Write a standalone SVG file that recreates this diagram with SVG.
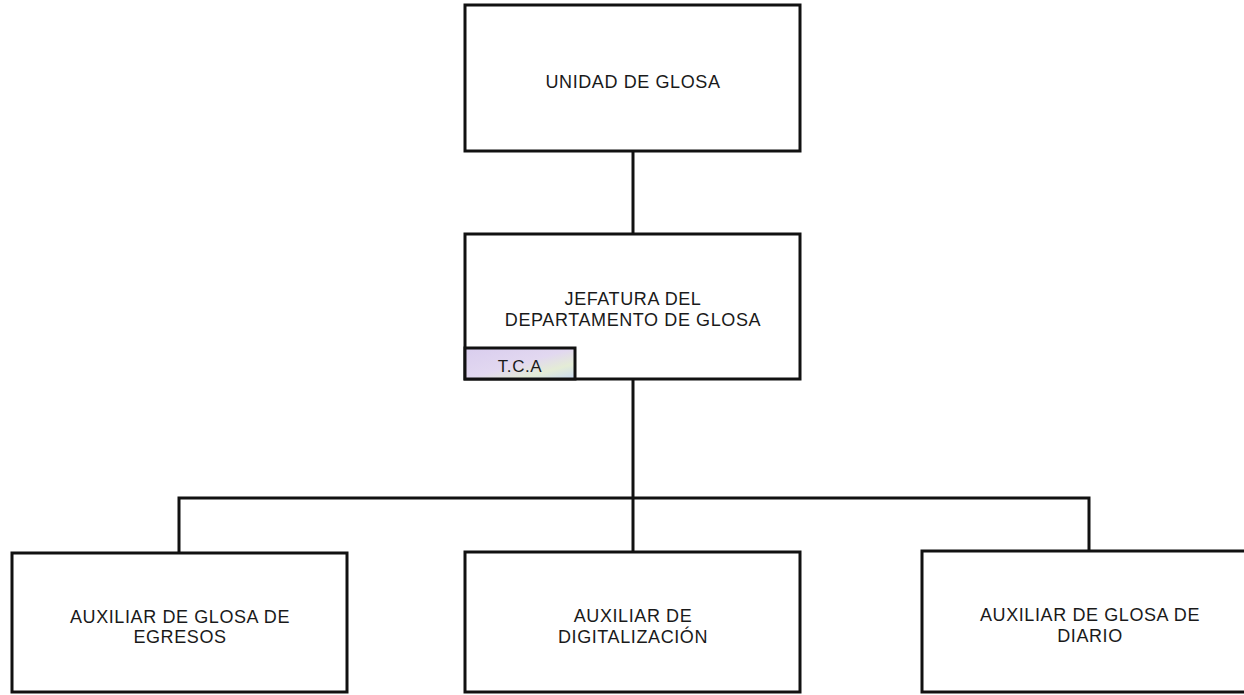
<svg xmlns="http://www.w3.org/2000/svg" width="1244" height="695" viewBox="0 0 1244 695">
<style>
.box{fill:#fff;stroke:#111;stroke-width:3}
.conn{fill:none;stroke:#111;stroke-width:3}
.t{font-family:"Liberation Sans",Arial,sans-serif;font-size:18px;fill:#1a1a1a;text-anchor:middle;letter-spacing:0.6px}
.s{font-size:17px}
</style>
<defs>
<linearGradient id="tca" x1="0" y1="0" x2="1" y2="1">
<stop offset="0" stop-color="#d9cdee"/>
<stop offset="0.5" stop-color="#e2d8f0"/>
<stop offset="0.75" stop-color="#e4ecd6"/>
<stop offset="1" stop-color="#c9daf2"/>
</linearGradient>
</defs>
<rect width="1244" height="695" fill="#fff"/>
<g id="connectors">
<line class="conn" x1="633" y1="151" x2="633" y2="234"/>
<line class="conn" x1="633" y1="379" x2="633" y2="552"/>
<polyline class="conn" points="179,552 179,498 1089,498 1089,551"/>
</g>
<g id="unidad">
<rect class="box" x="465" y="5" width="335" height="146"/>
<text class="t" x="633" y="88">UNIDAD DE GLOSA</text>
</g>
<g id="jefatura">
<rect class="box" x="465" y="234" width="335" height="145"/>
<text class="t" x="633" y="305">JEFATURA DEL</text>
<text class="t" x="633" y="326">DEPARTAMENTO DE GLOSA</text>
<g id="tca-badge">
<rect x="465" y="348" width="110" height="31" fill="url(#tca)" stroke="#111" stroke-width="3"/>
<text class="t s" x="520" y="372">T.C.A</text>
</g>
</g>
<g id="egresos">
<rect class="box" x="12" y="553" width="335" height="139"/>
<text class="t" x="180" y="623">AUXILIAR DE GLOSA DE</text>
<text class="t" x="180" y="643">EGRESOS</text>
</g>
<g id="digitalizacion">
<rect class="box" x="465" y="552" width="335" height="140"/>
<text class="t" x="633" y="622">AUXILIAR DE</text>
<text class="t" x="633" y="643">DIGITALIZACIÓN</text>
</g>
<g id="diario">
<rect class="box" x="922" y="551" width="340" height="141"/>
<text class="t" x="1090" y="621">AUXILIAR DE GLOSA DE</text>
<text class="t" x="1090" y="642">DIARIO</text>
</g>
</svg>
